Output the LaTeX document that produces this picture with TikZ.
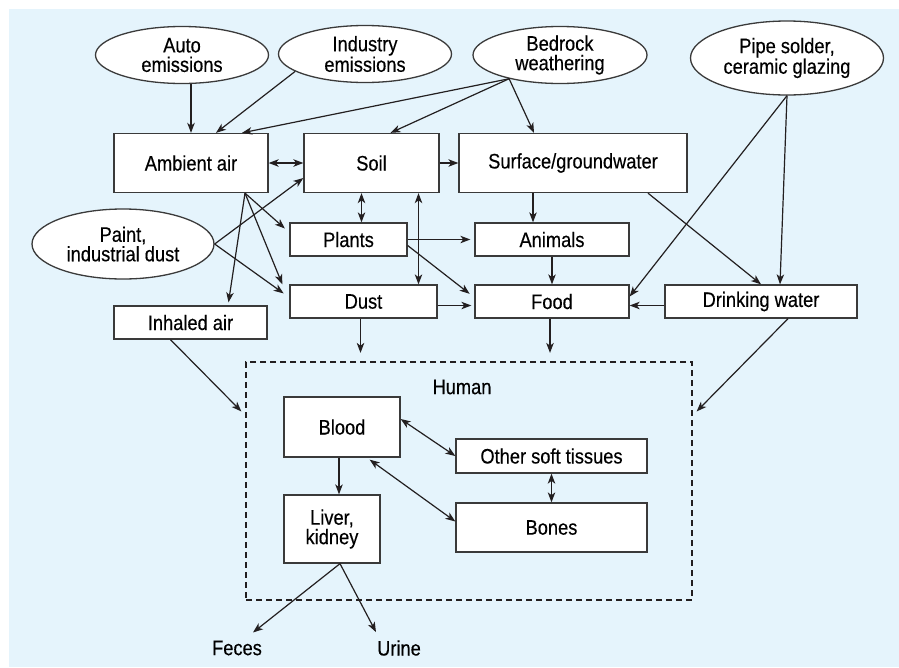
\documentclass[tikz,border=0pt]{standalone}
\usepackage{fontspec}
\setmainfont{Liberation Sans}[FakeStretch=0.87,FakeBold=0.35]
\usetikzlibrary{calc}
\usetikzlibrary{arrows.meta}
\usetikzlibrary{shapes.geometric}
\definecolor{dBack}{HTML}{E5F4FC}
\definecolor{dLine}{HTML}{231F20}
\definecolor{dEdge}{HTML}{3A3A3A}
\tikzset{
    box/.style 2 args={
            draw=dEdge,
            fill=white,
            line width=1.3pt,
            inner sep=0pt, % size is set by hand
            minimum width=#1 pt,
            minimum height=#2 pt
        },
    oval/.style 2 args={
            ellipse,
            draw=dEdge,
            fill=white,
            line width=1.3pt,
            inner sep=0pt,
            align=center,
            minimum width=#1 pt,
            minimum height=#2 pt
        },
    plain/.style={
            inner sep=2pt
        }
}
\tikzset{
    flow/.style={
            draw=dLine,
            line width=1.2pt,
            -{Stealth[length=10pt,width=7.5pt,inset=2.8pt]}
        },
    twoway/.style={
            draw=dLine,
            line width=1.2pt,
            {Stealth[length=10pt,width=7.5pt,inset=2.8pt]}-{Stealth[length=10pt,width=7.5pt,inset=2.8pt]}
        },
    humanbox/.style={
            draw=dLine,
            line width=2.2pt,
            dash pattern=on 6pt off 4pt,
            inner sep=0pt,
            minimum width=446pt,
            minimum height=238pt
        }
}
\begin{document}
\begin{tikzpicture}[
        x=1pt,
        y=-1pt,
        font=\fontsize{21}{19.5}\selectfont,
    ]
    \useasboundingbox (0,0) rectangle (899,667);
    \fill[dBack] (9,9) rectangle (899,667);
    % sources
    \node[oval={173}{57}] (auto) at (182,55) {Auto\\emissions};
    \node[oval={173}{57}] (industry) at (365,54) {Industry\\emissions};
    \node[oval={174}{57}] (bedrock) at (560,55) {Bedrock\\weathering};
    \node[oval={193}{74}] (pipe) at (787,58) {Pipe solder,\\ceramic glazing};
    \node[oval={182}{70}] (paint) at (123,244) {Paint,\\industrial dust};
    % media
    \node[box={154}{59}] (air) at (191,163) {Ambient air};
    \node[box={135}{59}] (soil) at (371.5,163) {Soil};
    \node[box={228}{59}] (surface) at (573,163) {Surface/groundwater};
    \node[box={117}{33}] (plants) at (348.5,239.5) {Plants};
    \node[box={154}{33}] (animals) at (552,239.5) {Animals};
    \node[box={147}{33}] (dust) at (363.5,301.5) {Dust};
    \node[box={154}{33}] (food) at (552,301.5) {Food};
    \node[box={192}{33}] (water) at (761,301.5) {Drinking water};
    \node[box={153}{33}] (inhaled) at (190.5,322.5) {Inhaled air};
    % human
    \node[humanbox] (human) at (469,481) {};
    \node (humantag) at (462,387) {Human};
    \node[box={116}{60}] (blood) at (342,427) {Blood};
    \node[box={191}{34}] (tissues) at (551.5,456) {Other soft tissues};
    \node[box={191}{49}] (bones) at (551.5,527.5) {Bones};
    \node[box={96}{68}, align=center] (liver) at (332,529) {Liver,\\kidney};
    \node[plain] (feces) at (237,648) {Feces};
    \node[plain] (urine) at (399,648) {Urine};
    % into the media
    \draw[flow] (air.north |- auto.south) -- (air.north);
    \draw[flow] (industry.194) -- ([xshift=25pt]air.north);
    \draw[flow] (bedrock.205) -- ([xshift=51pt]air.north);
    \draw[flow] (bedrock.205) -- ([xshift=19pt]soil.north);
    \draw[flow] (bedrock.205) -- ([xshift=-39pt]surface.north);
    \draw[flow] (pipe.south) -- ([yshift=5pt]food.east);
    \draw[flow] (pipe.south) -- ([xshift=19pt]water.north);
    \draw[flow] ([xshift=75pt]surface.south) -- (water.north);
    \draw[flow] (soil.east) -- (surface.west);
    \draw[flow] (paint.east) -- ([yshift=-15pt]soil.west);
    \draw[flow, shorten >=7pt] (paint.east) -- ([yshift=4pt]dust.west);
    \draw[flow, shorten >=6pt] ([xshift=54pt]air.south) -- ([yshift=7pt]plants.west);
    \draw[flow] ([xshift=54pt]air.south) -- ([xshift=-7pt]dust.north west);
    \draw[flow] ([xshift=54pt]air.south) -- ([xshift=38pt,yshift=3pt]inhaled.north);
    \draw[twoway] (air.east) -- (soil.west);
    \draw[twoway] ([xshift=-10pt]soil.south) -- ([xshift=-10pt]soil.south |- plants.north);
    \draw[twoway] ([xshift=47pt]soil.south) -- ([xshift=47pt]soil.south |- dust.north);
    % food chain
    \draw[flow, shorten >=4pt] (plants.east) -- (animals.west);
    \draw[flow, shorten >=6pt] ([yshift=-6pt]plants.east) -- ([yshift=4pt]food.west);
    \draw[flow, shorten >=3pt] ([yshift=-4pt]dust.east) -- ([yshift=-4pt]food.west);
    \draw[flow] ([xshift=-40pt]surface.south) -- ([xshift=-40pt]surface.south |- animals.north);
    \draw[flow] (animals.south) -- (food.north);
    \draw[flow] ([yshift=-4pt]water.west) -- ([yshift=-4pt]food.east);
    % into the human
    \draw[flow, shorten >=8pt] ([xshift=-3pt]dust.south) -- ([xshift=-3pt]dust.south |- human.north);
    \draw[flow, shorten >=8pt] ([xshift=-2pt]food.south) -- ([xshift=-2pt]food.south |- human.north);
    \draw[flow, shorten >=5pt] ([xshift=-20pt]inhaled.south) -- ([yshift=66pt]human.west);
    \draw[flow, shorten >=5pt] ([xshift=27pt]water.south) -- ([yshift=66pt]human.east);
    % inside the human
    \draw[twoway] ([yshift=8pt]blood.east) -- (tissues.west);
    \draw[twoway] ([xshift=-31pt,yshift=-2pt]blood.south east) -- ([yshift=6pt]bones.west);
    \draw[twoway] (tissues.south) -- (bones.north);
    \draw[flow] ([xshift=-3pt]blood.south) -- ([xshift=-3pt]blood.south |- liver.north);
    \draw[flow] ([xshift=8pt]liver.south) -- ([xshift=16pt,yshift=6pt]feces.north);
    \draw[flow] ([xshift=8pt]liver.south) -- ([xshift=-23pt,yshift=6pt]urine.north);
\end{tikzpicture}
\end{document}
